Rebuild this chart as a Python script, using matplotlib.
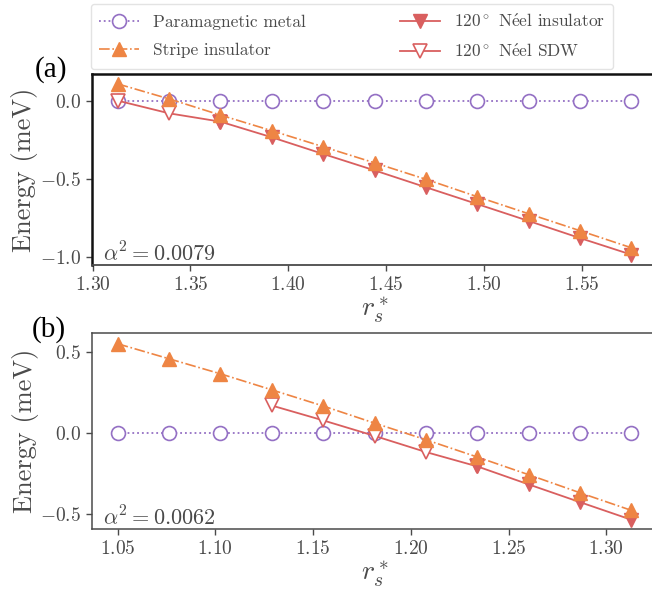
import matplotlib
matplotlib.use("Agg")
import matplotlib.pyplot as plt
import numpy as np

plt.rcParams['font.family'] = ['cmr10', 'DejaVu Serif']
plt.rcParams['mathtext.fontset'] = 'cm'
plt.rcParams['axes.formatter.use_mathtext'] = True

# data (energies in meV relative to the paramagnetic metal)
rs_a = np.array([1.3128, 1.3391, 1.3653, 1.3916, 1.4178, 1.4441, 1.4704,
                 1.4966, 1.5229, 1.5491, 1.5754])
pm_a = np.zeros(11)
stripe_a = np.array([0.107, 0.011, -0.092, -0.192, -0.294, -0.397, -0.502,
                     -0.613, -0.722, -0.830, -0.939])
neel_ins_a = np.array([np.nan, np.nan, -0.134, -0.234, -0.340, -0.445, -0.553,
                       -0.660, -0.768, -0.877, -0.983])
neel_sdw_a = np.array([0.0, -0.081, -0.134] + [np.nan] * 8)

rs_b = np.array([1.0500, 1.0763, 1.1026, 1.1288, 1.1551, 1.1814, 1.2077,
                 1.2340, 1.2602, 1.2865, 1.3128])
pm_b = np.zeros(11)
stripe_b = np.array([0.553, 0.460, 0.367, 0.268, 0.168, 0.062, -0.041,
                     -0.148, -0.257, -0.369, -0.478])
neel_ins_b = np.array([np.nan] * 7 + [-0.206, -0.317, -0.427, -0.536])
neel_sdw_b = np.array([np.nan] * 3 + [0.171, 0.079, -0.017, -0.117, -0.206] + [np.nan] * 3)

alpha2 = ['0.0079', '0.0062']
panel_labels = ['(a)', '(b)']

c_pm = '#9470c4'
c_stripe = '#ee8544'
c_neel = '#d95f5f'
grey = '#4a4a4a'

fig = plt.figure(figsize=(6.52, 5.91), dpi=100)
ax1 = fig.add_axes([0.1411, 0.5516, 0.8666, 0.3232])
ax2 = fig.add_axes([0.1411, 0.1044, 0.8666, 0.3316])

panels = [
    (ax1, rs_a, pm_a, stripe_a, neel_ins_a, neel_sdw_a),
    (ax2, rs_b, pm_b, stripe_b, neel_ins_b, neel_sdw_b),
]

for i, (ax, rs, pm, st, ni, sdw) in enumerate(panels):
    ax.plot(rs, pm, ':', color=c_pm, lw=1.3, marker='o', ms=10,
            mfc='white', mec=c_pm, mew=1.2, label='Paramagnetic metal', zorder=2)
    ax.plot(rs, st, '-.', color=c_stripe, lw=1.2, marker='^', ms=10,
            mfc=c_stripe, mec=c_stripe, label='Stripe insulator', zorder=4)
    ax.plot(rs, sdw, '-', color=c_neel, lw=1.3, marker='v', ms=10,
            mfc='white', mec=c_neel, mew=1.2,
            label='120$^\\circ$ N$\\acute{\\mathrm{e}}$el SDW', zorder=3)
    ax.plot(rs, ni, '-', color=c_neel, lw=1.3, marker='v', ms=10,
            mfc=c_neel, mec=c_neel,
            label='120$^\\circ$ N$\\acute{\\mathrm{e}}$el insulator', zorder=3.5)

    ax.set_ylabel('Energy (meV)', fontsize=19, color=grey, labelpad=1)
    ax.set_xlabel('$r_s^*$', fontsize=20, color=grey, labelpad=0)
    ax.tick_params(direction='out', length=4, width=1, labelsize=14,
                   colors=grey, pad=4)
    ax.text(0.02, 0.0, '$\\alpha^2 = %s$' % alpha2[i], transform=ax.transAxes,
            fontsize=16, color=grey, va='bottom', ha='left')
    ax.spines['right'].set_visible(False)

ax1.set_xlim(1.2997, 1.5885)
ax1.set_ylim(-1.049, 0.170)
ax1.set_xticks([1.30, 1.35, 1.40, 1.45, 1.50, 1.55])
ax1.set_yticks([-1.0, -0.5, 0.0])
ax2.set_xlim(1.0369, 1.3259)
ax2.set_ylim(-0.595, 0.6175)
ax2.set_xticks([1.05, 1.10, 1.15, 1.20, 1.25, 1.30])
ax2.set_yticks([-0.5, 0.0, 0.5])
for ax in (ax1, ax2):
    ax.xaxis.set_major_formatter(matplotlib.ticker.FuncFormatter(
        lambda v, p: '$%.2f$' % v))
    ax.yaxis.set_major_formatter(matplotlib.ticker.FuncFormatter(
        lambda v, p: '$%.1f$' % (0.0 if abs(v) < 1e-9 else v)))

for s in ['top', 'left']:
    ax1.spines[s].set_color('#111111')
    ax1.spines[s].set_linewidth(1.8)
ax1.spines['bottom'].set_color(grey)
ax1.spines['bottom'].set_linewidth(1.3)
for s in ['top', 'left', 'bottom']:
    ax2.spines[s].set_color(grey)
    ax2.spines[s].set_linewidth(1.1)

fig.text(0.053, 1 - 70 / 591, panel_labels[0], fontsize=21,
         family='Liberation Serif', va='center', ha='left')
fig.text(0.049, 1 - 330 / 591, panel_labels[1], fontsize=21,
         family='Liberation Serif', va='center', ha='left')

h, l = ax1.get_legend_handles_labels()
order = [0, 1, 3, 2]
leg = fig.legend([h[k] for k in order], [l[k] for k in order],
                 loc='upper left', bbox_to_anchor=(0.139, 0.994), ncol=2,
                 fontsize=12.5, handlelength=2.3, handletextpad=0.8,
                 columnspacing=5.4, labelspacing=0.75, frameon=True,
                 fancybox=True, borderpad=0.5, borderaxespad=0.0,
                 numpoints=1)
leg.get_frame().set_edgecolor('#dddddd')
for t in leg.get_texts():
    t.set_color(grey)

fig.savefig('out.png', dpi=100)
